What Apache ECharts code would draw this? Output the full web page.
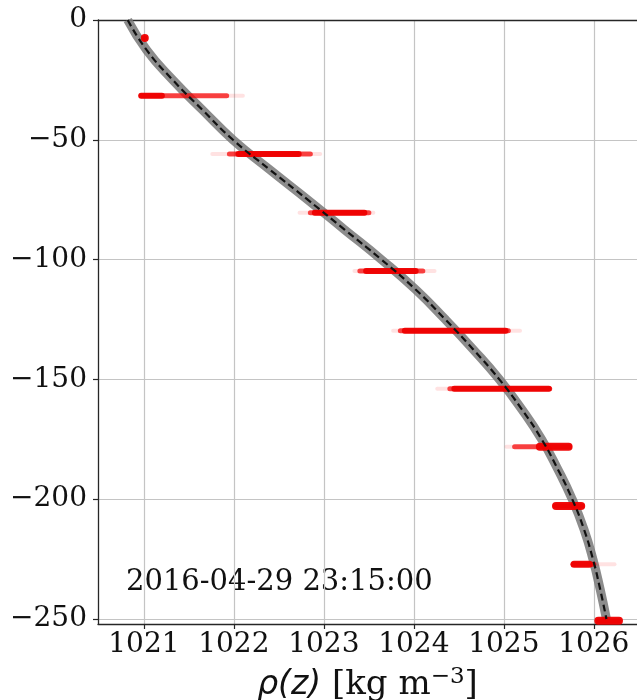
<!DOCTYPE html>
<html>
<head>
<meta charset="utf-8">
<script src="https://cdn.jsdelivr.net/npm/echarts@6/dist/echarts.min.js"></script>
<style>
html,body{margin:0;padding:0;background:#fff;}
#chart{width:637px;height:700px;}
</style>
</head>
<body>
<div id="chart"></div>
<script>
// ---- data ----
const curveDepth = [0, -12.5, -25, -37.5, -50, -62.5, -75, -87.5, -100, -112.5, -125, -137.5, -150, -162.5, -175, -187.5, -200, -212.5, -225, -237.5, -250];
const curveRho   = [1020.82, 1021.03, 1021.32, 1021.65, 1021.99, 1022.40, 1022.82, 1023.23, 1023.64, 1024.02, 1024.35, 1024.66, 1024.95, 1025.20, 1025.42, 1025.60, 1025.76, 1025.89, 1025.99, 1026.07, 1026.14];

const obsDepth = [-7.5, -31.6, -55.9, -80.4, -104.8, -129.7, -153.9, -178.1, -202.8, -227.2, -250.7];
const faintMin = [1021.01, 1020.97, 1021.76, 1022.73, 1023.34, 1023.77, 1024.26, 1025.03, 1025.57, 1025.77, 1026.05];
const faintMax = [1021.01, 1022.10, 1022.96, 1023.55, 1024.23, 1025.18, 1025.51, 1025.73, 1025.87, 1026.23, 1026.28];
const midMin   = [1021.01, 1020.97, 1021.95, 1022.85, 1023.40, 1023.85, 1024.40, 1025.12, 1025.57, 1025.77, 1026.05];
const midMax   = [1021.01, 1021.92, 1022.85, 1023.50, 1024.10, 1025.05, 1025.51, 1025.73, 1025.87, 1026.00, 1026.28];
const coreMin  = [1021.01, 1020.97, 1022.05, 1022.90, 1023.47, 1023.90, 1024.45, 1025.40, 1025.58, 1025.78, 1026.05];
const coreMax  = [1021.01, 1021.20, 1022.72, 1023.45, 1024.02, 1025.02, 1025.50, 1025.72, 1025.86, 1025.95, 1026.28];

const xTicks = [1021, 1022, 1023, 1024, 1025, 1026];
const yTicks = [0, -50, -100, -150, -200, -250];
const stamp = '2016-04-29 23:15:00';

// ---- chart ----
const X_MIN = 1020.49, X_MAX = 1026.48, Y_MIN = -252.1, Y_MAX = 0;
const coreHeights = [8, 6, 6, 6, 6, 6, 6, 8, 8, 7, 8];

function ranges(mins, maxs) {
  return obsDepth.map((d, i) => [mins[i], maxs[i], d, i]);
}
function streak(fill, hFn) {
  return function (params, api) {
    const p0 = api.coord([api.value(0), api.value(2)]);
    const p1 = api.coord([api.value(1), api.value(2)]);
    const h = hFn(api.value(3));
    return {
      type: 'rect',
      shape: { x: p0[0] - h / 2, y: p0[1] - h / 2, width: (p1[0] - p0[0]) + h, height: h, r: h / 2 },
      style: { fill: fill }
    };
  };
}

const chart = echarts.init(document.getElementById('chart'), null, { renderer: 'canvas' });
const serif = 'DejaVu Serif';
const axisColor = '#262626';

chart.setOption({
  animation: false,
  backgroundColor: '#fff',
  grid: { left: 98, top: 20, right: 0, bottom: 76, containLabel: false, outerBoundsMode: 'none' },
  xAxis: [{
    type: 'value', min: X_MIN, max: X_MAX, position: 'bottom',
    axisLine: { show: true, onZero: false, lineStyle: { color: axisColor, width: 1.3 } },
    axisTick: { show: true, length: 5, lineStyle: { color: axisColor, width: 1.2 }, customValues: xTicks },
    axisLabel: { color: '#111', fontFamily: serif, fontSize: 28, margin: 7, customValues: xTicks, formatter: v => String(v) },
    splitLine: { show: true, lineStyle: { color: '#c4c4c4', width: 1.2 } },
    name: '{it|ρ(z)}{rm| [kg m}{sup|−3}{rm|]}',
    nameLocation: 'middle', nameGap: 42,
    nameTextStyle: {
      rich: {
        it: { fontFamily: 'DejaVu Sans', fontStyle: 'italic', fontSize: 33, color: '#111' },
        rm: { fontFamily: serif, fontSize: 34, color: '#111' },
        sup: { fontFamily: serif, fontSize: 23, color: '#111', verticalAlign: 'top', padding: [0, 0, 16, 0] }
      }
    }
  }, {
    type: 'value', min: X_MIN, max: X_MAX, position: 'top',
    axisLine: { show: true, onZero: false, lineStyle: { color: axisColor, width: 1.3 } },
    axisTick: { show: false }, axisLabel: { show: false }, splitLine: { show: false }
  }],
  yAxis: {
    type: 'value', min: Y_MIN, max: Y_MAX,
    axisLine: { show: true, onZero: false, lineStyle: { color: axisColor, width: 1.3 } },
    axisTick: { show: true, length: 5, lineStyle: { color: axisColor, width: 1.2 }, customValues: yTicks },
    axisLabel: { color: '#111', fontFamily: serif, fontSize: 28, margin: 11, customValues: yTicks,
      formatter: v => (v < 0 ? '\u2212' + Math.abs(v) : String(v)) },
    splitLine: { show: true, lineStyle: { color: '#c4c4c4', width: 1.2 } }
  },
  series: [
    {
      type: 'line', name: 'band', xAxisIndex: 0,
      data: curveRho.map((r, i) => [r, curveDepth[i]]),
      smooth: 0.5, showSymbol: false, symbol: 'none',
      lineStyle: { color: 'rgba(120,120,120,0.85)', width: 9, cap: 'butt' }, z: 3
    },
    {
      type: 'custom', name: 'faint', xAxisIndex: 0,
      data: ranges(faintMin, faintMax), encode: { x: [0, 1], y: 2 },
      renderItem: streak('rgba(255,30,30,0.13)', () => 4), z: 4
    },
    {
      type: 'custom', name: 'mid', xAxisIndex: 0,
      data: ranges(midMin, midMax), encode: { x: [0, 1], y: 2 },
      renderItem: streak('rgba(245,0,0,0.72)', () => 5), z: 5
    },
    {
      type: 'custom', name: 'core', xAxisIndex: 0,
      data: ranges(coreMin, coreMax), encode: { x: [0, 1], y: 2 },
      renderItem: streak('rgba(238,0,0,0.95)', i => coreHeights[i]), z: 6
    },
    {
      type: 'line', name: 'fit', xAxisIndex: 0,
      data: curveRho.map((r, i) => [r, curveDepth[i]]),
      smooth: 0.5, showSymbol: false, symbol: 'none',
      lineStyle: { color: '#111', width: 2.2, type: [7, 4] }, z: 7
    }
  ],
  graphic: [{
    type: 'text', left: 126, top: 568,
    style: { text: stamp, fontFamily: serif, fontSize: 29, fill: '#111' }
  }]
});
</script>
</body>
</html>
